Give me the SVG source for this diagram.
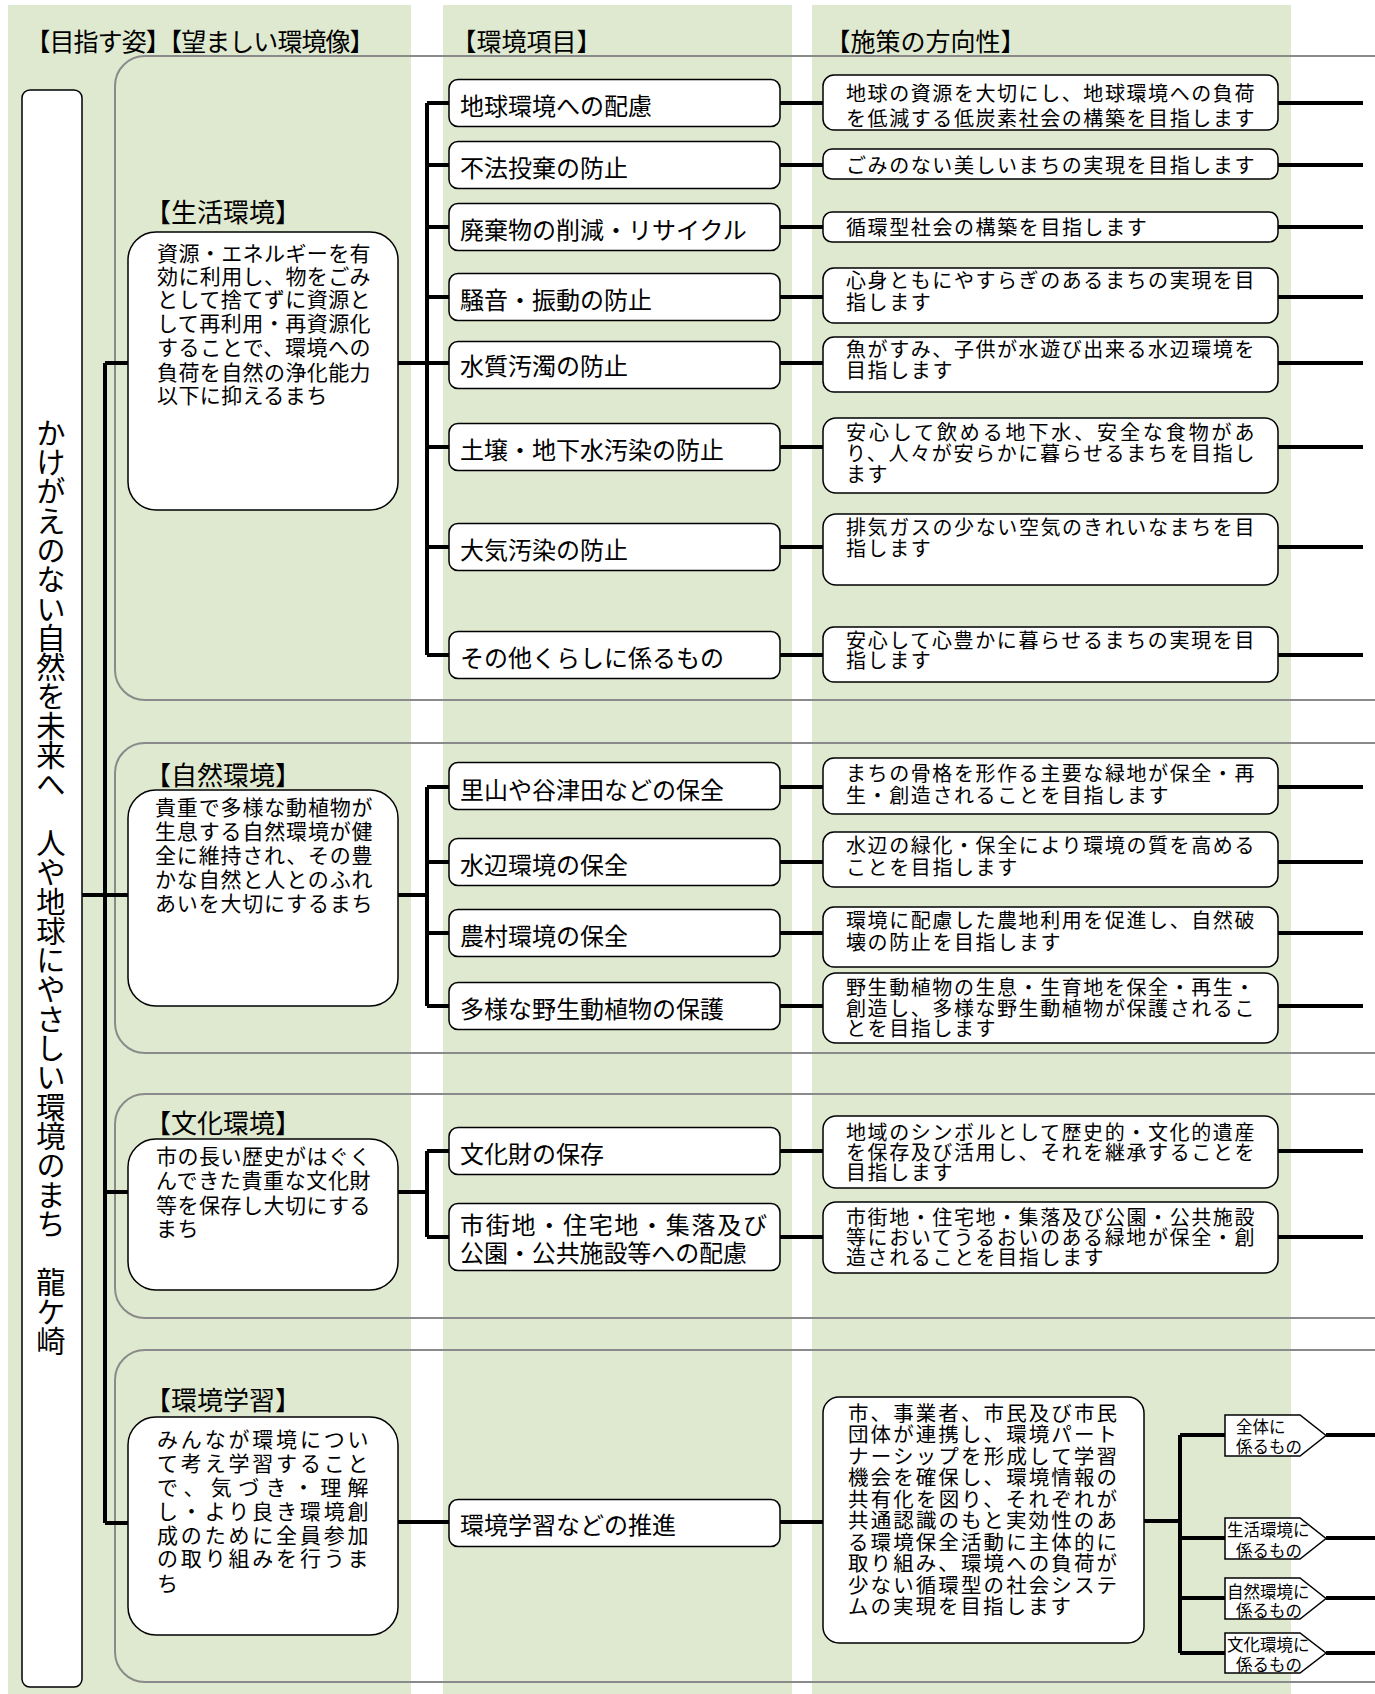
<svg xmlns="http://www.w3.org/2000/svg" width="1375" height="1694" viewBox="0 0 1375 1694">
<style>
.bg{fill:#dfe9d0}
.panel{fill:none;stroke:#8a8a8a;stroke-width:2}
.box{fill:#fff;stroke:#000;stroke-width:1.5}
.ln{stroke:#000;stroke-width:4;fill:none}
text{font-family:'Liberation Sans','Noto Sans CJK JP',sans-serif;fill:#000}
.h{font-size:25px}
.sh{font-size:26px}
.c2{font-size:24px}
.c3{font-size:20px;letter-spacing:1.6px}
.c4{font-size:20.5px;letter-spacing:2px}
.sec{font-size:21px;letter-spacing:0.4px}
.pt{font-size:16.5px}
.vt{font-size:29.3px;writing-mode:vertical-rl}
</style>
<rect x="0" y="0" width="1375" height="1694" fill="#fff"/>
<g id="columns">
<rect class="bg" x="8" y="5" width="403" height="1689"/>
<rect class="bg" x="443" y="5" width="349" height="1689"/>
<rect class="bg" x="812" y="5" width="479" height="1689"/>
</g>
<g id="headers">
<text class="h" x="25.5" y="50.5" textLength="349" lengthAdjust="spacing">【目指す姿】【望ましい環境像】</text>
<text class="h" x="451.5" y="50.5">【環境項目】</text>
<text class="h" x="825.5" y="50.5">【施策の方向性】</text>
</g>
<g id="panels">
<rect class="panel" x="115" y="56" width="1300" height="644" rx="30"/>
<rect class="panel" x="115" y="743" width="1300" height="310" rx="30"/>
<rect class="panel" x="115" y="1094" width="1300" height="224" rx="30"/>
<rect class="panel" x="115" y="1350" width="1300" height="332" rx="30"/>
</g>
<g id="connectors">
<path class="ln" d="M82 895H128M105 363V1523M105 363H128M105 1192H128M105 1523H128"/>
<path class="ln" d="M398 363H449M427 103V655M427 103H449M427 165H449M427 227H449M427 297H449M427 447H449M427 547H449M427 655H449"/>
<path class="ln" d="M398 895H427M427 787V1006M427 787H449M427 862H449M427 933H449M427 1006H449"/>
<path class="ln" d="M398 1192H427M427 1151V1237M427 1151H449M427 1237H449"/>
<path class="ln" d="M398 1522H449"/>
<path class="ln" d="M780 103H823M780 165H823M780 227H823M780 297H823M780 363H823M780 447H823M780 547H823M780 655H823"/>
<path class="ln" d="M780 787H823M780 862H823M780 933H823M780 1006H823M780 1151H823M780 1237H823M780 1522H823"/>
<path class="ln" d="M1278 103H1363M1278 165H1363M1278 227H1363M1278 297H1363M1278 363H1363M1278 447H1363M1278 547H1363M1278 655H1363"/>
<path class="ln" d="M1278 787H1363M1278 862H1363M1278 933H1363M1278 1006H1363M1278 1151H1363M1278 1237H1363"/>
<path class="ln" d="M1144 1521H1180M1180 1435V1653M1180 1435H1225M1180 1538H1225M1180 1598H1225M1180 1653H1225"/>
<path class="ln" d="M1326 1435H1375M1326 1538H1375M1326 1598H1375M1326 1653H1375"/>
</g>
<g id="vision">
<rect class="box" x="22" y="90" width="60" height="1597" rx="8"/>
<text class="vt" x="48.5" y="418">かけがえのない自然を未来へ　人や地球にやさしい環境のまち　龍ケ崎</text>
</g>
<g id="seikatsu">
<text class="sh" x="145" y="222">【生活環境】</text>
<rect class="box" x="128" y="232" width="270" height="278" rx="28"/>
<text class="sec" x="157" y="261" textLength="214">資源・エネルギーを有</text>
<text class="sec" x="157" y="284" textLength="214">効に利用し、物をごみ</text>
<text class="sec" x="157" y="307" textLength="214">として捨てずに資源と</text>
<text class="sec" x="157" y="331" textLength="214">して再利用・再資源化</text>
<text class="sec" x="157" y="355" textLength="214">することで、環境への</text>
<text class="sec" x="157" y="380" textLength="214">負荷を自然の浄化能力</text>
<text class="sec" x="157" y="403">以下に抑えるまち</text>
</g>
<g id="shizen">
<text class="sh" x="145" y="784.5">【自然環境】</text>
<rect class="box" x="128" y="790" width="270" height="216" rx="28"/>
<text class="sec" x="155" y="815" textLength="218">貴重で多様な動植物が</text>
<text class="sec" x="155" y="839" textLength="218">生息する自然環境が健</text>
<text class="sec" x="155" y="863" textLength="218">全に維持され、その豊</text>
<text class="sec" x="155" y="887" textLength="218">かな自然と人とのふれ</text>
<text class="sec" x="155" y="911" textLength="218">あいを大切にするまち</text>
</g>
<g id="bunka">
<text class="sh" x="145" y="1133">【文化環境】</text>
<rect class="box" x="128" y="1139" width="270" height="151" rx="28"/>
<text class="sec" x="156" y="1164" textLength="215">市の長い歴史がはぐく</text>
<text class="sec" x="156" y="1188" textLength="215">んできた貴重な文化財</text>
<text class="sec" x="156" y="1213" textLength="215">等を保存し大切にする</text>
<text class="sec" x="156" y="1236">まち</text>
</g>
<g id="gakushu">
<text class="sh" x="145" y="1409.5">【環境学習】</text>
<rect class="box" x="128" y="1417" width="270" height="218" rx="28"/>
<text class="sec" x="157" y="1447" textLength="212">みんなが環境につい</text>
<text class="sec" x="157" y="1471" textLength="212">て考え学習すること</text>
<text class="sec" x="157" y="1495" textLength="212">で、気づき・理解</text>
<text class="sec" x="157" y="1519" textLength="212">し・より良き環境創</text>
<text class="sec" x="157" y="1543" textLength="212">成のために全員参加</text>
<text class="sec" x="157" y="1566" textLength="212">の取り組みを行うま</text>
<text class="sec" x="157" y="1591">ち</text>
</g>
<g id="items">
<g id="item-1"><rect class="box" x="449" y="79.5" width="331" height="47" rx="9"/><text class="c2" x="460" y="115">地球環境への配慮</text></g>
<g id="item-2"><rect class="box" x="449" y="141.5" width="331" height="47" rx="9"/><text class="c2" x="460" y="177">不法投棄の防止</text></g>
<g id="item-3"><rect class="box" x="449" y="203.5" width="331" height="47" rx="9"/><text class="c2" x="460" y="239">廃棄物の削減・リサイクル</text></g>
<g id="item-4"><rect class="box" x="449" y="273.5" width="331" height="47" rx="9"/><text class="c2" x="460" y="309">騒音・振動の防止</text></g>
<g id="item-5"><rect class="box" x="449" y="341.5" width="331" height="47" rx="9"/><text class="c2" x="460" y="375">水質汚濁の防止</text></g>
<g id="item-6"><rect class="box" x="449" y="423.5" width="331" height="47" rx="9"/><text class="c2" x="460" y="459">土壌・地下水汚染の防止</text></g>
<g id="item-7"><rect class="box" x="449" y="523.5" width="331" height="47" rx="9"/><text class="c2" x="460" y="559">大気汚染の防止</text></g>
<g id="item-8"><rect class="box" x="449" y="631.5" width="331" height="47" rx="9"/><text class="c2" x="460" y="667">その他くらしに係るもの</text></g>
<g id="item-9"><rect class="box" x="449" y="762.5" width="331" height="47" rx="9"/><text class="c2" x="460" y="799">里山や谷津田などの保全</text></g>
<g id="item-10"><rect class="box" x="449" y="838.5" width="331" height="47" rx="9"/><text class="c2" x="460" y="874">水辺環境の保全</text></g>
<g id="item-11"><rect class="box" x="449" y="909.5" width="331" height="47" rx="9"/><text class="c2" x="460" y="945">農村環境の保全</text></g>
<g id="item-12"><rect class="box" x="449" y="982.5" width="331" height="47" rx="9"/><text class="c2" x="460" y="1018">多様な野生動植物の保護</text></g>
<g id="item-13"><rect class="box" x="449" y="1127.5" width="331" height="47" rx="9"/><text class="c2" x="460" y="1163">文化財の保存</text></g>
<g id="item-14"><rect class="box" x="449" y="1203.5" width="331" height="67" rx="9"/><text class="c2" x="460" y="1234" textLength="307">市街地・住宅地・集落及び</text><text class="c2" x="460" y="1262" textLength="287">公園・公共施設等への配慮</text></g>
<g id="item-15"><rect class="box" x="449" y="1499.5" width="331" height="47" rx="9"/><text class="c2" x="460" y="1534">環境学習などの推進</text></g>
</g>
<g id="policies">
<g id="policy-1"><rect class="box" x="823" y="75" width="455" height="55" rx="11"/><text class="c3" x="846" y="100.5" textLength="410">地球の資源を大切にし、地球環境への負荷</text><text class="c3" x="846" y="125.5" textLength="410">を低減する低炭素社会の構築を目指します</text></g>
<g id="policy-2"><rect class="box" x="823" y="149" width="455" height="30" rx="9"/><text class="c3" x="846" y="172.5" textLength="410">ごみのない美しいまちの実現を目指します</text></g>
<g id="policy-3"><rect class="box" x="823" y="212" width="455" height="30" rx="9"/><text class="c3" x="846" y="234.5">循環型社会の構築を目指します</text></g>
<g id="policy-4"><rect class="box" x="823" y="268" width="455" height="55" rx="11"/><text class="c3" x="846" y="287.5" textLength="410">心身ともにやすらぎのあるまちの実現を目</text><text class="c3" x="846" y="309.5">指します</text></g>
<g id="policy-5"><rect class="box" x="823" y="337" width="455" height="55" rx="11"/><text class="c3" x="846" y="356.5" textLength="410">魚がすみ、子供が水遊び出来る水辺環境を</text><text class="c3" x="846" y="377.5">目指します</text></g>
<g id="policy-6"><rect class="box" x="823" y="418" width="455" height="75" rx="13"/><text class="c3" x="846" y="439.5" textLength="410">安心して飲める地下水、安全な食物があ</text><text class="c3" x="846" y="460.5" textLength="410">り、人々が安らかに暮らせるまちを目指し</text><text class="c3" x="846" y="481.5">ます</text></g>
<g id="policy-7"><rect class="box" x="823" y="514" width="455" height="71" rx="13"/><text class="c3" x="846" y="534.5" textLength="410">排気ガスの少ない空気のきれいなまちを目</text><text class="c3" x="846" y="555.5">指します</text></g>
<g id="policy-8"><rect class="box" x="823" y="627" width="455" height="55" rx="11"/><text class="c3" x="846" y="647.5" textLength="410">安心して心豊かに暮らせるまちの実現を目</text><text class="c3" x="846" y="667.5">指します</text></g>
<g id="policy-9"><rect class="box" x="823" y="758" width="455" height="56" rx="11"/><text class="c3" x="846" y="780.5" textLength="410">まちの骨格を形作る主要な緑地が保全・再</text><text class="c3" x="846" y="802.5">生・創造されることを目指します</text></g>
<g id="policy-10"><rect class="box" x="823" y="832" width="455" height="55" rx="11"/><text class="c3" x="846" y="852.5" textLength="410">水辺の緑化・保全により環境の質を高める</text><text class="c3" x="846" y="874.5">ことを目指します</text></g>
<g id="policy-11"><rect class="box" x="823" y="907" width="455" height="60" rx="11"/><text class="c3" x="846" y="927.5" textLength="410">環境に配慮した農地利用を促進し、自然破</text><text class="c3" x="846" y="949.5">壊の防止を目指します</text></g>
<g id="policy-12"><rect class="box" x="823" y="973" width="455" height="70" rx="13"/><text class="c3" x="846" y="994.5" textLength="410">野生動植物の生息・生育地を保全・再生・</text><text class="c3" x="846" y="1015.5" textLength="410">創造し、多様な野生動植物が保護されるこ</text><text class="c3" x="846" y="1035.5">とを目指します</text></g>
<g id="policy-13"><rect class="box" x="823" y="1116" width="455" height="72" rx="13"/><text class="c3" x="846" y="1139.5" textLength="410">地域のシンボルとして歴史的・文化的遺産</text><text class="c3" x="846" y="1159.5" textLength="410">を保存及び活用し、それを継承することを</text><text class="c3" x="846" y="1179.5">目指します</text></g>
<g id="policy-14"><rect class="box" x="823" y="1202" width="455" height="71" rx="13"/><text class="c3" x="846" y="1224.5" textLength="410">市街地・住宅地・集落及び公園・公共施設</text><text class="c3" x="846" y="1244.5" textLength="410">等においてうるおいのある緑地が保全・創</text><text class="c3" x="846" y="1264.5">造されることを目指します</text></g>
<g id="policy-15"><rect class="box" x="823" y="1397" width="321" height="246" rx="16"/>
<text class="c4" x="848" y="1420.5" textLength="271">市、事業者、市民及び市民</text>
<text class="c4" x="848" y="1442" textLength="271">団体が連携し、環境パート</text>
<text class="c4" x="848" y="1463.5" textLength="271">ナーシップを形成して学習</text>
<text class="c4" x="848" y="1484.5" textLength="271">機会を確保し、環境情報の</text>
<text class="c4" x="848" y="1506.5" textLength="271">共有化を図り、それぞれが</text>
<text class="c4" x="848" y="1527.5" textLength="271">共通認識のもと実効性のあ</text>
<text class="c4" x="848" y="1549.5" textLength="271">る環境保全活動に主体的に</text>
<text class="c4" x="848" y="1570.5" textLength="271">取り組み、環境への負荷が</text>
<text class="c4" x="848" y="1592.5" textLength="271">少ない循環型の社会システ</text>
<text class="c4" x="848" y="1613.5">ムの実現を目指します</text></g>
</g>
<g id="targets">
<g id="target-1"><path class="box" d="M1225 1415H1300L1326 1435.5L1300 1456H1225Z" stroke-width="1.2"/><text class="pt" x="1236" y="1433">全体に</text><text class="pt" x="1236" y="1453">係るもの</text></g>
<g id="target-2"><path class="box" d="M1225 1518H1300L1326 1538.5L1300 1559H1225Z" stroke-width="1.2"/><text class="pt" x="1227" y="1536">生活環境に</text><text class="pt" x="1236" y="1557">係るもの</text></g>
<g id="target-3"><path class="box" d="M1225 1578H1300L1326 1598.5L1300 1619H1225Z" stroke-width="1.2"/><text class="pt" x="1227" y="1598">自然環境に</text><text class="pt" x="1236" y="1617">係るもの</text></g>
<g id="target-4"><path class="box" d="M1225 1633H1300L1326 1653L1300 1673H1225Z" stroke-width="1.2"/><text class="pt" x="1227" y="1651">文化環境に</text><text class="pt" x="1236" y="1671">係るもの</text></g>
</g>
</svg>
